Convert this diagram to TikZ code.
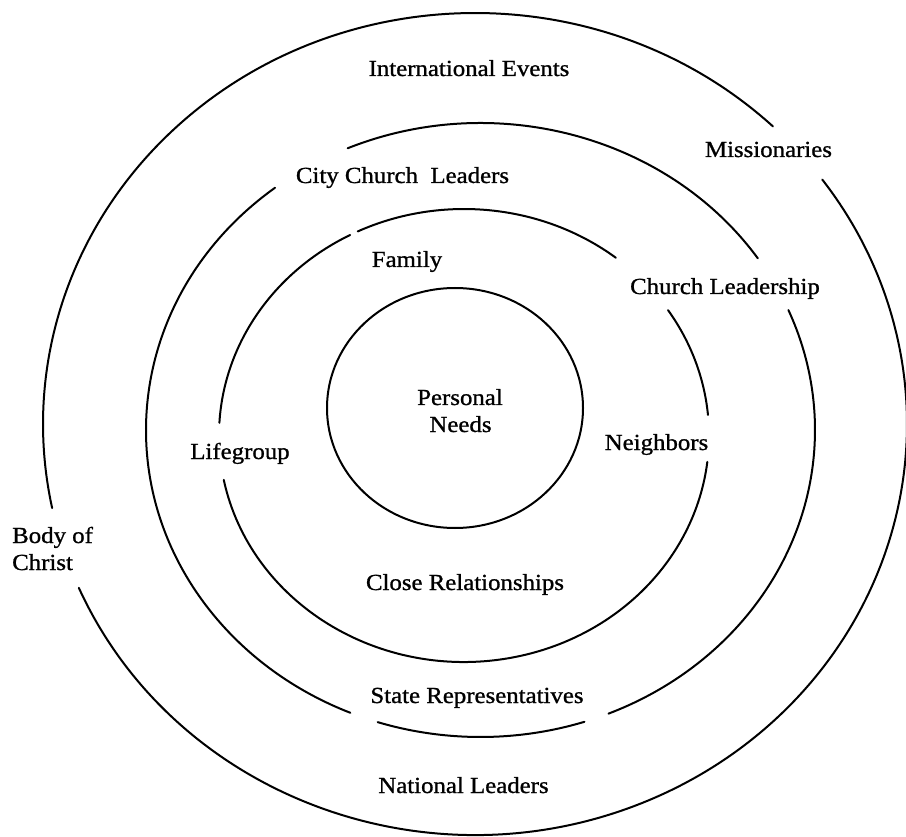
\documentclass[tikz,border=0pt]{standalone}
\usepackage{fontspec}
\setmainfont{Liberation Serif}[FakeStretch=1.08, FakeBold=1]
\begin{document}
\begin{tikzpicture}[x=1pt,y=1pt,
  ring/.style={line width=2pt, line cap=round, black},
  lbl/.style={font=\fontsize{23}{27}\selectfont, inner sep=0pt, anchor=base}]
\useasboundingbox (0,0) rectangle (906,-837);
\fill[white] (0,0) rectangle (906,-837);
% centres of the rings
\coordinate (c1) at (455,-408);
\coordinate (c2) at (464,-435.5);
\coordinate (c3) at (480.5,-430);
\coordinate (c4) at (475,-424);
% inner ring
\draw[ring] (c1) ellipse [x radius=128, y radius=120];
% ring 2
\draw[ring] (c2) ++(51.7:245 and 226.5) arc[start angle=51.7, end angle=115.7, x radius=245, y radius=226.5];
\draw[ring] (c2) ++(117.7:245 and 226.5) arc[start angle=117.7, end angle=176.8, x radius=245, y radius=226.5];
\draw[ring] (c2) ++(191.3:245 and 226.5) arc[start angle=191.3, end angle=353.3, x radius=245, y radius=226.5];
\draw[ring] (c2) ++(5.2:245 and 226.5) arc[start angle=5.2, end angle=33.6, x radius=245, y radius=226.5];
% ring 3
\draw[ring] (c3) ++(34:334.5 and 307) arc[start angle=34, end angle=113.4, x radius=334.5, y radius=307];
\draw[ring] (c3) ++(127.9:334.5 and 307) arc[start angle=127.9, end angle=247.1, x radius=334.5, y radius=307];
\draw[ring] (c3) ++(252.1:334.5 and 307) arc[start angle=252.1, end angle=288.1, x radius=334.5, y radius=307];
\draw[ring] (c3) ++(292.5:334.5 and 307) arc[start angle=292.5, end angle=383, x radius=334.5, y radius=307];
% outer ring
\draw[ring] (c4) ++(46.4:432 and 411) arc[start angle=46.4, end angle=191.8, x radius=432, y radius=411];
\draw[ring] (c4) ++(203.5:432 and 411) arc[start angle=203.5, end angle=396.5, x radius=432, y radius=411];
% labels
\node[lbl] (intl) at (469,-76) {International Events};
\node[lbl] (miss) at (768.5,-157) {Missionaries};
\node[lbl] (city) at (402.5,-183) {City Church\ \ Leaders};
\node[lbl] (fam) at (407,-267) {Family};
\node[lbl] (chl) at (725,-294) {Church Leadership};
\node[lbl] (pn1) at (460,-405) {Personal};
\node[lbl] (pn2) at (460.5,-432) {Needs};
\node[lbl] (life) at (240,-459) {Lifegroup};
\node[lbl] (neigh) at (656.5,-450) {Neighbors};
\node[lbl, anchor=base west] (boc1) at (12,-543) {Body of};
\node[lbl, anchor=base west] (boc2) at (12,-570) {Christ};
\node[lbl] (close) at (465,-590) {Close Relationships};
\node[lbl] (state) at (477,-703) {State Representatives};
\node[lbl] (natl) at (463.5,-793) {National Leaders};
\end{tikzpicture}
\end{document}
